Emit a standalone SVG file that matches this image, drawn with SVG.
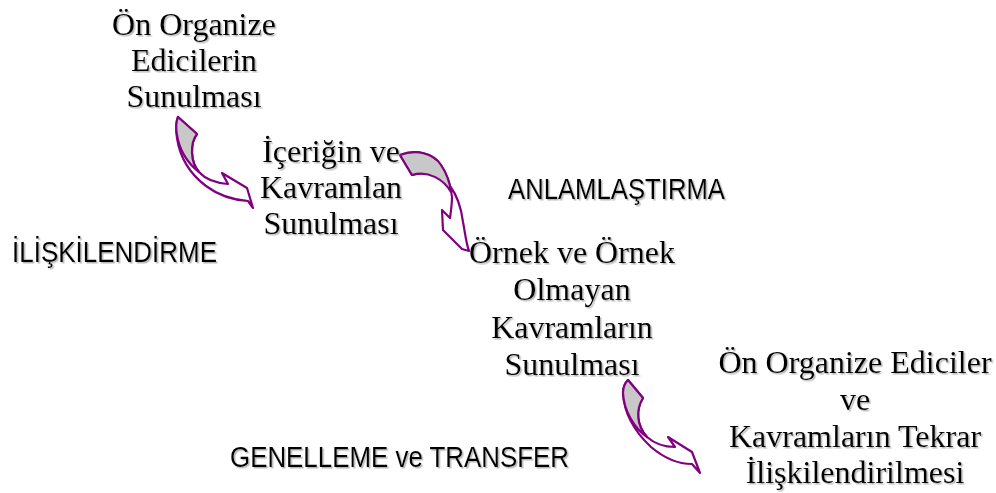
<svg xmlns="http://www.w3.org/2000/svg" width="996" height="493" viewBox="0 0 996 493">
<defs>
<filter id="sh" x="-5%" y="-10%" width="110%" height="130%">
<feDropShadow dx="1.5" dy="1.5" stdDeviation="0.6" flood-color="#888" flood-opacity="0.6"/>
</filter>
</defs>
<style>
.t{font-family:"Liberation Serif","Times New Roman",serif;font-size:32px;fill:#000;text-anchor:middle;filter:url(#sh)}
.s{font-family:"Liberation Sans",Arial,sans-serif;font-size:30px;fill:#000;filter:url(#sh)}
.ar{fill:#fff;stroke:#800080;stroke-width:2.2;stroke-linejoin:round}
.gr{fill:#c8c8c8;stroke:#800080;stroke-width:2.2;stroke-linejoin:round}
</style>
<rect width="996" height="493" fill="#fff"/>
<g id="labels">
<text class="s" x="12" y="262" textLength="205" lengthAdjust="spacingAndGlyphs">İLİŞKİLENDİRME</text>
<text class="s" x="508" y="199" textLength="217" lengthAdjust="spacingAndGlyphs">ANLAMLAŞTIRMA</text>
<text class="s" x="230" y="467" textLength="339" lengthAdjust="spacingAndGlyphs">GENELLEME ve TRANSFER</text>
</g>
<g id="connectors">
<g id="arrow1">
<path class="ar" d="M178,117 L197,134 C190,143 190,162 199,172 C206,180 216,183 228,184 L222,173 L247,188 L253,208 L248,201 C234,200 218,195 206,186 C190,174 180,158 177,138 Q175,125 178,117 Z"/>
<path class="gr" d="M178,117 L197,134 C190,143 190,162 199,172 C187,163 179,149 177,135 Q175,124 178,117 Z"/>
</g>
<g id="arrow2">
<path class="ar" d="M400,155 C416,149 433,153 441,165 C448,176 451,187 452,197 C452,204 451,211 450,218 L442,210 L443,230 L462,249 L469,251 C466,243 465,232 463,222 C461,206 456,194 450,186 C443,176 428,170 412,175 Z"/>
<path class="gr" d="M400,155 C416,149 433,153 441,165 C447,174 450,183 451,192 C444,180 429,170 412,175 Z"/>
</g>
<g id="arrow3">
<path class="ar" d="M628,380 L643,398 C636,409 636,425 647,437 C655,444 663,447 675,447 L668,437 L692,452 L700,473 L692,464 C679,464 664,458 651,447 C635,432 624,413 623,393 Q623,385 628,380 Z"/>
<path class="gr" d="M628,380 L643,398 C636,409 636,425 647,437 C634,428 624,411 623,393 Q623,385 628,380 Z"/>
</g>
</g>
<g id="node1">
<text class="t" x="194" y="35">Ön Organize</text>
<text class="t" x="194" y="71">Edicilerin</text>
<text class="t" x="194" y="107">Sunulması</text>
</g>
<g id="node2">
<text class="t" x="331" y="162">İçeriğin ve</text>
<text class="t" x="331" y="198">Kavramlan</text>
<text class="t" x="331" y="234">Sunulması</text>
</g>
<g id="node3">
<text class="t" x="572" y="263">Örnek ve Örnek</text>
<text class="t" x="572" y="300">Olmayan</text>
<text class="t" x="572" y="338">Kavramların</text>
<text class="t" x="572" y="375">Sunulması</text>
</g>
<g id="node4">
<text class="t" x="855" y="373">Ön Organize Ediciler</text>
<text class="t" x="855" y="410">ve</text>
<text class="t" x="855" y="447">Kavramların Tekrar</text>
<text class="t" x="855" y="483">İlişkilendirilmesi</text>
</g>
</svg>
